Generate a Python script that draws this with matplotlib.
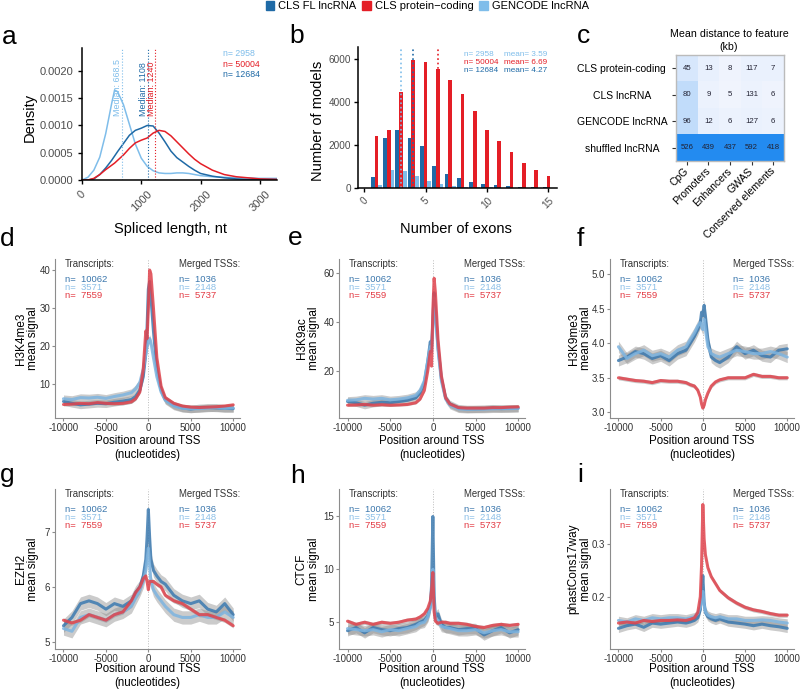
import matplotlib.pyplot as plt
import numpy as np
from matplotlib.patches import Patch
from matplotlib.colors import LinearSegmentedColormap

plt.rcParams['font.family'] = ['Liberation Sans', 'DejaVu Sans']
plt.rcParams['axes.unicode_minus'] = False

# --- colours ---
DARK, RED, LIGHT = '#1F6AA6', '#E41E26', '#7FBDEA'
P_DARK, P_LIGHT, P_RED = '#3C7AB0', '#7DB4E0', '#E0434C'
T_DARK, T_LIGHT, T_RED = '#3A76AC', '#8DC0E8', '#E33A43'

# --- a: spliced length densities ---
len_x = [0, 100, 200, 300, 400, 500, 550, 600, 700, 800, 900, 1000, 1100, 1200,
         1300, 1400, 1500, 1600, 1700, 1800, 1900, 2000, 2200, 2400, 2600, 2800, 3000, 3300]
dens_gencode = [0.0, 0.00005, 0.00018, 0.00042, 0.00085, 0.00140, 0.00165, 0.00162, 0.00138,
                0.00102, 0.00066, 0.00040, 0.00025, 0.00017, 0.00013, 0.00012, 0.00012, 0.00013,
                0.00013, 0.00012, 0.00010, 0.00008, 0.00006, 0.00005, 0.00004, 0.00004, 0.00003, 0.00003]
dens_cls = [0.0, 0.0, 0.00002, 0.00010, 0.00022, 0.00036, 0.00044, 0.00052, 0.00067, 0.00082,
            0.00091, 0.00095, 0.00100, 0.00099, 0.00086, 0.00070, 0.00053, 0.00041, 0.00033,
            0.00025, 0.00018, 0.00012, 0.00007, 0.00004, 0.00002, 0.00001, 0.00001, 0.00001]
dens_pc = [0.0, 0.0, 0.00003, 0.00010, 0.00019, 0.00027, 0.00031, 0.00036, 0.00046, 0.00058,
           0.00068, 0.00073, 0.00077, 0.00086, 0.00091, 0.00089, 0.00081, 0.00070, 0.00059,
           0.00048, 0.00038, 0.00030, 0.00018, 0.00010, 0.00006, 0.00004, 0.00002, 0.00001]
len_medians = [668.5, 1108, 1240]          # gencode, cls, pc
len_n = [2958, 50004, 12684]               # light, red, dark (as printed)

# --- b: number of exons ---
exons = list(range(1, 16))
exon_cls = [510, 2320, 2710, 2320, 1970, 1040, 670, 480, 295, 200, 150, 100, 60, 40, 30]
exon_pc = [2430, 2680, 4450, 5970, 5890, 5530, 5020, 4370, 3610, 2710, 2170, 1660, 1160, 850, 570]
exon_gencode = [130, 850, 800, 570, 340, 200, 80, 60, 40, 30, 20, 15, 10, 8, 5]
exon_medians = [3, 4, 6]                   # gencode, cls, pc
exon_n = [2958, 50004, 12684]
exon_means = ['3.59', '6.69', '4.27']

# --- c: mean distance heatmap ---
c_rows = ['CLS protein-coding', 'CLS lncRNA', 'GENCODE lncRNA', 'shuffled lncRNA']
c_cols = ['CpG', 'Promoters', 'Enhancers', 'GWAS', 'Conserved elements']
c_values = [[45, 13, 8, 117, 7],
            [80, 9, 5, 131, 6],
            [96, 12, 6, 127, 6],
            [526, 439, 437, 592, 418]]
c_fill = [[0.14, 0.06, 0.03, 0.05, 0.05],
          [0.24, 0.04, 0.02, 0.04, 0.03],
          [0.24, 0.06, 0.04, 0.05, 0.04],
          [0.97, 0.97, 0.97, 0.97, 0.97]]

# --- d-i: TSS profiles ---
pos = [-10000, -9000, -8000, -7000, -6000, -5000, -4000, -3000, -2000, -1500, -1000, -600,
       -300, -150, 0, 150, 300, 600, 1000, 1500, 2000, 3000, 4000, 5000, 6000, 7000, 8000, 9000, 10000]

d_dark = [5.5, 5.0, 4.6, 4.8, 5.0, 4.9, 5.3, 5.6, 6.0, 6.8, 8.5, 12, 18, 25, 35, 37, 33, 24, 14, 8.5, 6.0, 4.5, 3.8, 3.5, 3.8, 3.9, 3.8, 3.7, 3.6]
d_light = [6.2, 6.0, 6.5, 6.4, 6.6, 6.3, 6.8, 7.2, 7.8, 8.8, 10.5, 14, 18, 20, 21, 22, 21, 17, 12, 8.0, 5.8, 4.3, 3.7, 3.6, 3.6, 3.8, 3.9, 3.7, 3.8]
d_red = [4.7, 4.8, 5.0, 4.9, 5.2, 5.0, 4.9, 5.0, 5.4, 6.2, 8.0, 14, 24, 22, 30, 40, 39, 30, 17, 9.5, 6.5, 5.0, 4.3, 4.0, 3.9, 4.0, 4.1, 4.3, 4.6]

e_dark = [7.5, 7.0, 6.0, 6.8, 7.2, 7.0, 7.5, 8.0, 9.0, 11, 15, 24, 32, 30, 40, 52, 45, 30, 17, 9, 6.5, 4.8, 4.5, 4.5, 4.6, 4.8, 4.6, 4.7, 4.8]
e_light = [8.0, 8.2, 8.8, 8.5, 8.8, 8.2, 8.5, 9.0, 10, 12, 16, 24, 30, 28, 38, 50, 44, 29, 16, 8.5, 6.0, 4.5, 4.3, 4.4, 4.4, 4.5, 4.6, 4.6, 4.7]
e_red = [6.0, 6.1, 6.3, 6.0, 6.2, 6.0, 6.1, 6.3, 7.0, 8.5, 12, 20, 28, 22, 45, 58, 52, 33, 18, 9, 6.5, 5.0, 4.8, 4.8, 4.8, 5.0, 5.0, 5.2, 5.3]

f_dark = [3.75, 3.80, 3.88, 3.85, 3.78, 3.82, 3.75, 3.85, 3.90, 4.00, 4.10, 4.20, 4.30, 4.45, 4.40, 4.55, 4.40, 4.05, 3.80, 3.75, 3.72, 3.80, 3.95, 3.85, 3.90, 3.82, 3.80, 3.90, 3.92]
f_light = [3.95, 3.78, 3.85, 3.90, 3.82, 3.85, 3.80, 3.90, 3.95, 4.05, 4.15, 4.25, 4.30, 4.25, 4.20, 4.35, 4.20, 3.95, 3.85, 3.82, 3.80, 3.85, 3.90, 3.88, 3.85, 3.85, 3.88, 3.85, 3.80]
f_red = [3.50, 3.48, 3.46, 3.45, 3.43, 3.46, 3.45, 3.45, 3.43, 3.40, 3.38, 3.32, 3.22, 3.12, 3.06, 3.10, 3.18, 3.28, 3.38, 3.44, 3.47, 3.50, 3.50, 3.50, 3.55, 3.52, 3.52, 3.50, 3.50]

g_dark = [5.30, 5.45, 5.70, 5.75, 5.70, 5.60, 5.70, 5.65, 5.75, 5.90, 6.00, 6.20, 6.50, 6.90, 7.40, 6.90, 6.50, 6.30, 6.20, 6.10, 6.05, 5.85, 5.75, 5.70, 5.75, 5.60, 5.55, 5.70, 5.50]
g_light = [5.25, 5.20, 5.45, 5.50, 5.45, 5.40, 5.50, 5.55, 5.65, 5.80, 5.95, 6.10, 6.30, 6.50, 6.70, 6.40, 6.10, 5.95, 5.85, 5.75, 5.65, 5.50, 5.45, 5.45, 5.50, 5.45, 5.45, 5.55, 5.45]
g_red = [5.40, 5.35, 5.40, 5.50, 5.45, 5.40, 5.50, 5.55, 5.75, 5.90, 6.00, 6.15, 6.20, 6.10, 5.95, 6.10, 6.10, 6.10, 6.05, 6.00, 5.85, 5.75, 5.70, 5.60, 5.50, 5.50, 5.45, 5.40, 5.30]

h_dark = [4.2, 4.5, 4.0, 4.5, 4.3, 4.2, 4.4, 4.5, 4.8, 5.0, 5.2, 5.6, 6.5, 8.5, 15.0, 7.5, 5.5, 5.8, 4.8, 4.5, 4.5, 4.3, 4.4, 4.4, 3.8, 4.2, 4.5, 4.0, 4.3]
h_light = [4.4, 4.3, 4.2, 4.3, 4.1, 4.3, 4.2, 4.4, 4.6, 4.9, 5.0, 5.5, 6.3, 7.5, 10.0, 6.5, 5.3, 5.2, 4.6, 4.5, 4.4, 4.2, 4.2, 4.3, 4.0, 4.2, 4.3, 4.1, 4.1]
h_red = [5.1, 4.8, 5.0, 4.8, 5.0, 4.9, 5.0, 5.2, 5.3, 5.5, 5.8, 6.3, 7.0, 8.0, 9.7, 6.0, 5.1, 4.9, 5.0, 5.0, 4.9, 4.9, 4.8, 4.6, 4.5, 4.7, 4.8, 4.7, 4.8]

i_dark = [0.140, 0.145, 0.148, 0.142, 0.150, 0.148, 0.150, 0.152, 0.150, 0.152, 0.155, 0.160, 0.175, 0.200, 0.240, 0.190, 0.170, 0.162, 0.158, 0.155, 0.158, 0.152, 0.150, 0.148, 0.145, 0.148, 0.145, 0.143, 0.140]
i_light = [0.155, 0.152, 0.158, 0.155, 0.160, 0.158, 0.160, 0.160, 0.158, 0.160, 0.162, 0.168, 0.180, 0.195, 0.210, 0.185, 0.172, 0.165, 0.162, 0.160, 0.162, 0.158, 0.158, 0.155, 0.155, 0.156, 0.155, 0.152, 0.150]
i_red = [0.150, 0.152, 0.150, 0.155, 0.153, 0.155, 0.155, 0.156, 0.155, 0.157, 0.160, 0.170, 0.200, 0.260, 0.375, 0.310, 0.280, 0.255, 0.238, 0.225, 0.212, 0.198, 0.188, 0.180, 0.175, 0.172, 0.168, 0.165, 0.165]

# band half-widths (dark, light, red)
se_d, se_e, se_f = (1.0, 1.0, 0.4), (1.5, 1.5, 0.5), (0.08, 0.08, 0.03)
se_g, se_h, se_i = (0.12, 0.12, 0.04), (0.5, 0.5, 0.2), (0.008, 0.008, 0.004)

tx_n = ['10062', '3571', '7559']
tss_n = ['1036', '2148', '5737']

# --- figure helpers ---
W, H = 800, 690
fig = plt.figure(figsize=(8, 6.9), dpi=100)


def px_axes(l, t, r, b):
    return fig.add_axes([l / W, 1 - b / H, (r - l) / W, (b - t) / H])


def px_text(x, y, s, **kw):
    return fig.text(x / W, 1 - y / H, s, **kw)


def style_black(ax, size=8, pad=3.5):
    for s in ['top', 'right']:
        ax.spines[s].set_visible(False)
    for s in ['left', 'bottom']:
        ax.spines[s].set_linewidth(1.1)
        ax.spines[s].set_color('black')
    ax.tick_params(length=3, width=1.0, pad=pad, color='black', labelcolor='#4D4D4D', labelsize=size)


# --- legend ---
handles = [Patch(color=DARK, label='CLS FL lncRNA'), Patch(color=RED, label='CLS protein\u2212coding'),
           Patch(color=LIGHT, label='GENCODE lncRNA')]
fig.legend(handles=handles, loc='center', bbox_to_anchor=(0.534, 0.991), ncol=3, frameon=False,
           fontsize=8, handlelength=0.8, handleheight=0.8, handletextpad=0.35, columnspacing=0.5,
           borderpad=0, borderaxespad=0)

# --- panel a ---
ax = px_axes(82, 48, 277, 180)
ax.plot(len_x, dens_gencode, color=LIGHT, lw=1.1)
ax.plot(len_x, dens_cls, color=DARK, lw=1.1)
ax.plot(len_x, dens_pc, color=RED, lw=1.1)
for m, c in zip(len_medians, [LIGHT, DARK, RED]):
    ax.axvline(m, color=c, ls=':', lw=0.8)
    ax.text(m - 70, 0.00118, f'Median: {m:g}', rotation=90, ha='center', va='bottom', color=c, fontsize=6.4)
for k, (n, c) in enumerate(zip(len_n, [LIGHT, RED, DARK])):
    ax.text(2376, 0.002312 - k * 0.000193, f'n= {n}', color=c, fontsize=6.3, va='center')
ax.set_xlim(0, 3290)
ax.set_ylim(0, 0.00242)
ax.set_yticks([0, 0.0005, 0.001, 0.0015, 0.002])
ax.set_yticklabels([f'{v:.4f}' for v in [0, 0.0005, 0.001, 0.0015, 0.002]])
ax.set_xticks([0, 1000, 2000, 3000])
ax.set_xticklabels(['0', '1000', '2000', '3000'], rotation=45, ha='center', va='top')
style_black(ax)
px_text(30, 117, 'Density', rotation=90, ha='center', va='center', fontsize=10.5)
px_text(170, 229, 'Spliced length, nt', ha='center', va='center', fontsize=10.5)

# --- panel b ---
ax = px_axes(358, 47, 557, 188)
ex = np.array(exons)
ax.bar(ex - 0.3, exon_cls, width=0.3, color=DARK)
ax.bar(ex, exon_pc, width=0.3, color=RED)
ax.bar(ex + 0.3, exon_gencode, width=0.3, color=LIGHT)
for m, c in zip(exon_medians, [LIGHT, DARK, RED]):
    ax.axvline(m, color=c, ls=':', lw=1.2)
for k, (n, mu, c) in enumerate(zip(exon_n, exon_means, [LIGHT, RED, DARK])):
    ax.text(8.1, 6200 - k * 372, f'n= {n}', color=c, fontsize=5.9, va='center')
    ax.text(11.35, 6200 - k * 372, f'mean= {mu}', color=c, fontsize=5.9, va='center')
ax.set_xlim(-0.5, 15.7)
ax.set_ylim(0, 6570)
ax.set_yticks([0, 2000, 4000, 6000])
ax.set_xticks([0, 5, 10, 15])
ax.set_xticklabels(['0', '5', '10', '15'], rotation=45, ha='center', va='top')
style_black(ax, size=7.2, pad=2)
px_text(318, 121, 'Number of models', rotation=90, ha='center', va='center', fontsize=10.5)
px_text(456, 229, 'Number of exons', ha='center', va='center', fontsize=10.5)

# --- panel c ---
ax = px_axes(676, 55, 784, 161)
cmap = LinearSegmentedColormap.from_list('dist', ['#F5F7FE', '#1E88F0'])
ax.imshow(np.array(c_fill), cmap=cmap, vmin=0, vmax=1, aspect='auto')
for r, row in enumerate(c_values):
    for k, v in enumerate(row):
        ax.text(k, r, str(v), ha='center', va='center', fontsize=5.6, color='#222233')
ax.set_xticks(range(len(c_cols)))
ax.set_xticklabels(c_cols, rotation=45, ha='right', va='center', rotation_mode='anchor', fontsize=7.5)
ax.set_yticks(range(len(c_rows)))
ax.set_yticklabels(c_rows, ha='center', fontsize=7.5)
ax.tick_params(axis='y', length=3, pad=36, color='#333333')
ax.tick_params(axis='x', length=3, pad=3, color='#333333')
for s in ax.spines.values():
    s.set_color('#BBBBBB')
    s.set_linewidth(1.0)
px_text(729, 34, 'Mean distance to feature', ha='center', va='center', fontsize=7.7)
px_text(729, 47, '(kb)', ha='center', va='center', fontsize=7.7)

# --- panels d-i ---
profiles = [
    ('H3K4me3', d_dark, d_light, d_red, se_d, (1.15, 42.9), [10, 20, 30, 40], '{:g}'),
    ('H3K9ac', e_dark, e_light, e_red, se_e, (0.75, 65.9), [20, 40, 60], '{:g}'),
    ('H3K9me3', f_dark, f_light, f_red, se_f, (2.917, 5.222), [3.0, 3.5, 4.0, 4.5, 5.0], '{:.1f}'),
    ('EZH2', g_dark, g_light, g_red, se_g, (4.88, 7.77), [5, 6, 7], '{:g}'),
    ('CTCF', h_dark, h_light, h_red, se_h, (2.47, 17.6), [5, 10, 15], '{:g}'),
    ('phastCons17way', i_dark, i_light, i_red, se_i, (0.1008, 0.4044), [0.2, 0.3], '{:.1f}'),
]
cols_x = [(55, 240), (339, 525), (610, 794)]
rows_y = [(259, 418), (489, 649)]
ylab_x = [27, 308, 580]
xlab_y = [(441, 455), (669, 683)]

for idx, (name, yd, yl, yr, se, ylim, yt, fmt) in enumerate(profiles):
    ci, ri = idx % 3, idx // 3
    l, r = cols_x[ci]
    t, b = rows_y[ri]
    ax = px_axes(l, t, r, b)
    ax.axvline(0, color='#BBBBBB', ls=':', lw=0.7)
    for y, s in zip([yd, yl, yr], se):
        y = np.array(y)
        ax.fill_between(pos, y - s, y + s, color='#8C8C8C', alpha=0.45, lw=0)
    for y, c in zip([yd, yl, yr], [P_DARK, P_LIGHT, P_RED]):
        ax.plot(pos, y, color=c, lw=2.2, alpha=0.85, solid_capstyle='round')
    ax.set_xlim(-11000, 10800)
    ax.set_ylim(*ylim)
    ax.set_yticks(yt)
    ax.set_yticklabels([fmt.format(v) for v in yt])
    ax.set_xticks([-10000, -5000, 0, 5000, 10000])
    for s in ['top', 'right']:
        ax.spines[s].set_visible(False)
    for s in ['left', 'bottom']:
        ax.spines[s].set_color('#8C8C8C')
        ax.spines[s].set_linewidth(0.8)
    ax.tick_params(length=2.5, width=0.8, pad=1, color='#8C8C8C', labelcolor='#333333', labelsize=7)
    ax.text(0.054, 0.97, 'Transcripts:', transform=ax.transAxes, fontsize=6.9, color='#333333', va='center')
    ax.text(0.67, 0.97, 'Merged TSSs:', transform=ax.transAxes, fontsize=6.9, color='#333333', va='center')
    for k, c in enumerate([T_DARK, T_LIGHT, T_RED]):
        yy = 0.874 - k * 0.052
        ax.text(0.054, yy, f'n=  {tx_n[k]}', transform=ax.transAxes, fontsize=6.8, color=c, va='center')
        ax.text(0.67, yy, f'n=  {tss_n[k]}', transform=ax.transAxes, fontsize=6.8, color=c, va='center')
    px_text(ylab_x[ci], (t + b) / 2, f'{name}\nmean signal', rotation=90, ha='center', va='center',
            fontsize=8.5, linespacing=1.05)
    y1, y2 = xlab_y[ri]
    px_text((l + r) / 2, y1, 'Position around TSS', ha='center', va='center', fontsize=8.3)
    px_text((l + r) / 2, y2, '(nucleotides)', ha='center', va='center', fontsize=8.3)

# --- panel letters ---
letters = [('a', 2, 44), ('b', 289, 43), ('c', 577, 43),
           ('d', 0, 246), ('e', 288, 245), ('f', 577, 246),
           ('g', 0, 482), ('h', 290, 483), ('i', 577, 482)]
for s, x, y in letters:
    px_text(x, y, s, fontsize=19, va='baseline', ha='left')

fig.savefig('out.png', dpi=100)
